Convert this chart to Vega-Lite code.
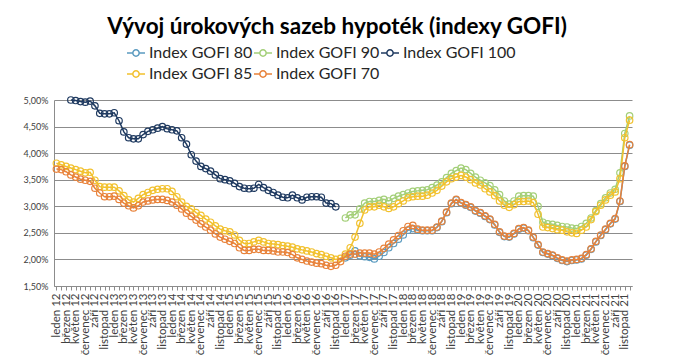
{
  "$schema": "https://vega.github.io/schema/vega-lite/v6.json",
  "width": 578,
  "height": 186,
  "autosize": "none",
  "padding": {"left": 54, "top": 100, "right": 41, "bottom": 70},
  "background": "white",
  "config": {"view": {"stroke": null}, "font": "Lato"},
  "title": {"text": "Vývoj úrokových sazeb hypoték (indexy GOFI)", "font": "Lato", "fontSize": 22.5, "fontWeight": "bold", "color": "#000000", "anchor": "middle", "frame": "group", "offset": 5, "dx": -6},
  "data": {"values": [
    {"t":"2012-01","g85":3.81,"g70":3.70},
    {"t":"2012-02","g85":3.78,"g70":3.69},
    {"t":"2012-03","g85":3.75,"g70":3.65},
    {"t":"2012-04","g100":5.00,"g85":3.72,"g70":3.59},
    {"t":"2012-05","g100":4.99,"g85":3.69,"g70":3.55},
    {"t":"2012-06","g100":4.97,"g85":3.66,"g70":3.51},
    {"t":"2012-07","g100":4.96,"g85":3.63,"g70":3.49},
    {"t":"2012-08","g100":4.98,"g85":3.64,"g70":3.47},
    {"t":"2012-09","g100":4.89,"g85":3.49,"g70":3.34},
    {"t":"2012-10","g100":4.75,"g85":3.37,"g70":3.25},
    {"t":"2012-11","g100":4.74,"g85":3.36,"g70":3.18},
    {"t":"2012-12","g100":4.74,"g85":3.36,"g70":3.18},
    {"t":"2013-01","g100":4.76,"g85":3.36,"g70":3.19},
    {"t":"2013-02","g100":4.61,"g85":3.29,"g70":3.13},
    {"t":"2013-03","g100":4.40,"g85":3.20,"g70":3.06},
    {"t":"2013-04","g100":4.29,"g85":3.12,"g70":3.01},
    {"t":"2013-05","g100":4.27,"g85":3.08,"g70":2.97},
    {"t":"2013-06","g100":4.27,"g85":3.15,"g70":3.01},
    {"t":"2013-07","g100":4.35,"g85":3.22,"g70":3.08},
    {"t":"2013-08","g100":4.41,"g85":3.26,"g70":3.10},
    {"t":"2013-09","g100":4.44,"g85":3.30,"g70":3.12},
    {"t":"2013-10","g100":4.47,"g85":3.32,"g70":3.13},
    {"t":"2013-11","g100":4.50,"g85":3.33,"g70":3.13},
    {"t":"2013-12","g100":4.46,"g85":3.33,"g70":3.11},
    {"t":"2014-01","g100":4.44,"g85":3.28,"g70":3.08},
    {"t":"2014-02","g100":4.42,"g85":3.18,"g70":3.02},
    {"t":"2014-03","g100":4.29,"g85":3.08,"g70":2.95},
    {"t":"2014-04","g100":4.17,"g85":3.00,"g70":2.87},
    {"t":"2014-05","g100":3.97,"g85":2.95,"g70":2.81},
    {"t":"2014-06","g100":3.85,"g85":2.88,"g70":2.74},
    {"t":"2014-07","g100":3.75,"g85":2.83,"g70":2.67},
    {"t":"2014-08","g100":3.71,"g85":2.76,"g70":2.61},
    {"t":"2014-09","g100":3.66,"g85":2.70,"g70":2.55},
    {"t":"2014-10","g100":3.59,"g85":2.63,"g70":2.48},
    {"t":"2014-11","g100":3.52,"g85":2.57,"g70":2.42},
    {"t":"2014-12","g100":3.50,"g85":2.54,"g70":2.38},
    {"t":"2015-01","g100":3.48,"g85":2.52,"g70":2.34},
    {"t":"2015-02","g100":3.43,"g85":2.46,"g70":2.30},
    {"t":"2015-03","g100":3.37,"g85":2.36,"g70":2.22},
    {"t":"2015-04","g100":3.34,"g85":2.30,"g70":2.17},
    {"t":"2015-05","g100":3.33,"g85":2.30,"g70":2.17},
    {"t":"2015-06","g100":3.34,"g85":2.33,"g70":2.19},
    {"t":"2015-07","g100":3.41,"g85":2.36,"g70":2.19},
    {"t":"2015-08","g100":3.35,"g85":2.33,"g70":2.17},
    {"t":"2015-09","g100":3.30,"g85":2.30,"g70":2.17},
    {"t":"2015-10","g100":3.26,"g85":2.29,"g70":2.16},
    {"t":"2015-11","g100":3.21,"g85":2.28,"g70":2.14},
    {"t":"2015-12","g100":3.17,"g85":2.26,"g70":2.14},
    {"t":"2016-01","g100":3.16,"g85":2.25,"g70":2.13},
    {"t":"2016-02","g100":3.21,"g85":2.23,"g70":2.09},
    {"t":"2016-03","g100":3.16,"g85":2.20,"g70":2.03},
    {"t":"2016-04","g100":3.12,"g85":2.18,"g70":2.00},
    {"t":"2016-05","g100":3.17,"g85":2.16,"g70":1.97},
    {"t":"2016-06","g100":3.18,"g85":2.14,"g70":1.95},
    {"t":"2016-07","g100":3.18,"g85":2.11,"g70":1.93},
    {"t":"2016-08","g100":3.17,"g85":2.09,"g70":1.92},
    {"t":"2016-09","g100":3.06,"g85":2.06,"g70":1.89},
    {"t":"2016-10","g100":3.05,"g85":2.03,"g70":1.87},
    {"t":"2016-11","g100":2.99,"g85":2.00,"g70":1.89},
    {"t":"2016-12","g85":2.02,"g70":1.96},
    {"t":"2017-01","g80":2.03,"g90":2.78,"g85":2.10,"g70":2.06},
    {"t":"2017-02","g80":2.08,"g90":2.84,"g85":2.22,"g70":2.10},
    {"t":"2017-03","g80":2.16,"g90":2.84,"g85":2.42,"g70":2.10},
    {"t":"2017-04","g80":2.07,"g90":2.95,"g85":2.68,"g70":2.12},
    {"t":"2017-05","g80":2.05,"g90":3.06,"g85":2.93,"g70":2.12},
    {"t":"2017-06","g80":2.04,"g90":3.09,"g85":2.99,"g70":2.12},
    {"t":"2017-07","g80":2.01,"g90":3.09,"g85":2.99,"g70":2.10},
    {"t":"2017-08","g80":2.06,"g90":3.11,"g85":3.02,"g70":2.14},
    {"t":"2017-09","g80":2.13,"g90":3.13,"g85":2.99,"g70":2.21},
    {"t":"2017-10","g80":2.22,"g90":3.10,"g85":2.96,"g70":2.29},
    {"t":"2017-11","g80":2.30,"g90":3.15,"g85":2.99,"g70":2.37},
    {"t":"2017-12","g80":2.38,"g90":3.19,"g85":3.05,"g70":2.45},
    {"t":"2018-01","g80":2.46,"g90":3.22,"g85":3.10,"g70":2.54},
    {"t":"2018-02","g80":2.55,"g90":3.25,"g85":3.16,"g70":2.62},
    {"t":"2018-03","g80":2.58,"g90":3.28,"g85":3.18,"g70":2.64},
    {"t":"2018-04","g80":2.55,"g90":3.29,"g85":3.19,"g70":2.57},
    {"t":"2018-05","g80":2.54,"g90":3.30,"g85":3.19,"g70":2.55},
    {"t":"2018-06","g80":2.54,"g90":3.31,"g85":3.21,"g70":2.55},
    {"t":"2018-07","g80":2.54,"g90":3.35,"g85":3.25,"g70":2.55},
    {"t":"2018-08","g80":2.60,"g90":3.40,"g85":3.30,"g70":2.61},
    {"t":"2018-09","g80":2.71,"g90":3.46,"g85":3.38,"g70":2.72},
    {"t":"2018-10","g80":2.88,"g90":3.54,"g85":3.46,"g70":2.89},
    {"t":"2018-11","g80":3.05,"g90":3.62,"g85":3.52,"g70":3.06},
    {"t":"2018-12","g80":3.12,"g90":3.67,"g85":3.55,"g70":3.13},
    {"t":"2019-01","g80":3.06,"g90":3.72,"g85":3.58,"g70":3.07},
    {"t":"2019-02","g80":3.02,"g90":3.69,"g85":3.55,"g70":3.03},
    {"t":"2019-03","g80":2.98,"g90":3.62,"g85":3.50,"g70":2.99},
    {"t":"2019-04","g80":2.91,"g90":3.55,"g85":3.44,"g70":2.92},
    {"t":"2019-05","g80":2.87,"g90":3.49,"g85":3.40,"g70":2.88},
    {"t":"2019-06","g80":2.81,"g90":3.44,"g85":3.33,"g70":2.82},
    {"t":"2019-07","g80":2.75,"g90":3.39,"g85":3.27,"g70":2.76},
    {"t":"2019-08","g80":2.65,"g90":3.31,"g85":3.20,"g70":2.66},
    {"t":"2019-09","g80":2.51,"g90":3.22,"g85":3.10,"g70":2.52},
    {"t":"2019-10","g80":2.43,"g90":3.10,"g85":3.02,"g70":2.44},
    {"t":"2019-11","g80":2.42,"g90":3.04,"g85":2.98,"g70":2.43},
    {"t":"2019-12","g80":2.48,"g90":3.10,"g85":3.03,"g70":2.49},
    {"t":"2020-01","g80":2.57,"g90":3.19,"g85":3.09,"g70":2.58},
    {"t":"2020-02","g80":2.59,"g90":3.20,"g85":3.09,"g70":2.60},
    {"t":"2020-03","g80":2.54,"g90":3.20,"g85":3.10,"g70":2.55},
    {"t":"2020-04","g80":2.41,"g90":3.19,"g85":3.07,"g70":2.42},
    {"t":"2020-05","g80":2.27,"g90":3.00,"g85":2.85,"g70":2.28},
    {"t":"2020-06","g80":2.13,"g90":2.70,"g85":2.61,"g70":2.14},
    {"t":"2020-07","g80":2.10,"g90":2.67,"g85":2.60,"g70":2.11},
    {"t":"2020-08","g80":2.07,"g90":2.66,"g85":2.58,"g70":2.08},
    {"t":"2020-09","g80":2.02,"g90":2.64,"g85":2.56,"g70":2.03},
    {"t":"2020-10","g80":1.98,"g90":2.62,"g85":2.55,"g70":1.99},
    {"t":"2020-11","g80":1.96,"g90":2.61,"g85":2.52,"g70":1.97},
    {"t":"2020-12","g80":1.98,"g90":2.59,"g85":2.50,"g70":1.99},
    {"t":"2021-01","g80":1.99,"g90":2.58,"g85":2.49,"g70":2.00},
    {"t":"2021-02","g80":2.01,"g90":2.62,"g85":2.55,"g70":2.02},
    {"t":"2021-03","g80":2.08,"g90":2.68,"g85":2.61,"g70":2.09},
    {"t":"2021-04","g80":2.19,"g90":2.78,"g85":2.75,"g70":2.20},
    {"t":"2021-05","g80":2.33,"g90":2.92,"g85":2.90,"g70":2.34},
    {"t":"2021-06","g80":2.45,"g90":3.05,"g85":3.02,"g70":2.46},
    {"t":"2021-07","g80":2.56,"g90":3.16,"g85":3.12,"g70":2.57},
    {"t":"2021-08","g80":2.67,"g90":3.25,"g85":3.21,"g70":2.68},
    {"t":"2021-09","g80":2.76,"g90":3.32,"g85":3.27,"g70":2.77},
    {"t":"2021-10","g80":3.09,"g90":3.63,"g85":3.52,"g70":3.10},
    {"t":"2021-11","g80":3.75,"g90":4.37,"g85":4.29,"g70":3.76},
    {"t":"2021-12","g80":4.15,"g90":4.70,"g85":4.62,"g70":4.16}
  ]},
  "encoding": {
    "x": {
      "field": "t", "type": "ordinal",
      "scale": {"type": "point", "padding": 0.5},
      "axis": {
        "title": null,
        "labelAngle": 270,
        "labelAlign": "right",
        "labelBaseline": "middle",
        "labelOverlap": false,
        "labelFont": "Lato",
        "labelFontSize": 11.5,
        "labelColor": "#404040",
        "labelPadding": 3,
        "tickSize": 4,
        "tickColor": "#8c8c8c",
        "domainColor": "#8c8c8c",
        "grid": false,
        "labelExpr": "(toNumber(substring(datum.value,5,7)) % 2 == 1) ? ['leden','únor','březen','duben','květen','červen','červenec','srpen','září','říjen','listopad','prosinec'][toNumber(substring(datum.value,5,7))-1] + ' ' + substring(datum.value,2,4) : ''"
      }
    }
  },
  "layer": [
    {
      "mark": {"type": "line", "strokeWidth": 1.5, "point": {"filled": false, "size": 42, "strokeWidth": 1.2}},
      "encoding": {
        "y": {
          "field": "g80", "type": "quantitative", "title": null,
          "scale": {"domain": [1.5, 5], "nice": false, "zero": false},
          "axis": {
            "values": [1.5, 2, 2.5, 3, 3.5, 4, 4.5, 5],
            "tickCount": 10,
            "labelExpr": "replace(format(datum.value, '.2f'), '.', ',') + '%'",
            "labelOverlap": false,
            "labelFont": "Lato", "labelFontSize": 9, "labelColor": "#404040",
            "labelPadding": 6, "ticks": false,
            "grid": true, "gridColor": "#8c8c8c", "gridWidth": 1,
            "domain": true, "domainColor": "#8c8c8c"
          }
        },
        "color": {
          "datum": "Index GOFI 80",
          "scale": {
            "domain": ["Index GOFI 80", "Index GOFI 90", "Index GOFI 100", "Index GOFI 85", "Index GOFI 70"],
            "range": ["#5B9BC0", "#A3CF78", "#1F3A60", "#F2C12E", "#E8823A"]
          },
          "legend": {
            "title": null,
            "orient": "none",
            "legendX": 72,
            "legendY": -57,
            "columns": 3,
            "direction": "horizontal",
            "labelFont": "Lato",
            "labelFontSize": 16,
            "labelColor": "#262626",
            "labelOffset": 3,
            "columnPadding": -4,
            "rowPadding": 3,
            "symbolType": "M-1,0L-0.35,0M0.35,0L1,0M0.35,0A0.35,0.35,0,1,1,-0.35,0A0.35,0.35,0,1,1,0.35,0",
            "symbolSize": 324,
            "symbolStrokeWidth": 1.5,
            "symbolFillColor": "transparent"
          }
        }
      }
    },
    {
      "mark": {"type": "line", "strokeWidth": 1.5, "point": {"filled": false, "size": 42, "strokeWidth": 1.2}},
      "encoding": {
        "y": {"field": "g90", "type": "quantitative", "title": null},
        "color": {"datum": "Index GOFI 90"}
      }
    },
    {
      "mark": {"type": "line", "strokeWidth": 1.5, "point": {"filled": false, "size": 42, "strokeWidth": 1.2}},
      "encoding": {
        "y": {"field": "g100", "type": "quantitative", "title": null},
        "color": {"datum": "Index GOFI 100"}
      }
    },
    {
      "mark": {"type": "line", "strokeWidth": 1.5, "point": {"filled": false, "size": 42, "strokeWidth": 1.2}},
      "encoding": {
        "y": {"field": "g85", "type": "quantitative", "title": null},
        "color": {"datum": "Index GOFI 85"}
      }
    },
    {
      "mark": {"type": "line", "strokeWidth": 1.5, "point": {"filled": false, "size": 42, "strokeWidth": 1.2}},
      "encoding": {
        "y": {"field": "g70", "type": "quantitative", "title": null},
        "color": {"datum": "Index GOFI 70"}
      }
    }
  ]
}
